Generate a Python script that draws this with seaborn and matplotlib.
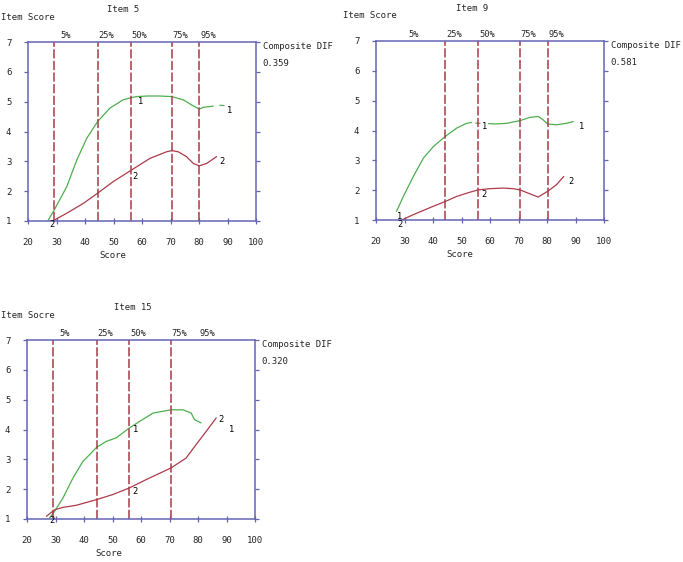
"""
DIF item plots: item score vs total score for two groups, three items.
"""
import matplotlib
matplotlib.use("Agg")
import matplotlib.pyplot as plt
import seaborn as sns
import pandas as pd

# ---- data ----
items = ["Item 5", "Item 9", "Item 15"]
y_titles = ["Item Score", "Item Score", "Item Socre"]
dif_values = ["0.359", "0.581", "0.320"]
pct_names = ["5%", "25%", "50%", "75%", "95%"]
pct_label_x = [31.3, 44.7, 56.3, 70.7, 80.5]

# percentile cut lines drawn in each panel
cuts_5 = [29.2, 44.4, 56.0, 70.5, 80.1]
cuts_9 = [44.3, 55.9, 70.5, 80.2]
cuts_15 = [29.1, 44.5, 55.9, 70.5]

# group 1 (green) and group 2 (red) curves; seg splits broken pieces
g1_5_x = [27.1, 29.2, 33.6, 37.1, 40.6, 44.4, 48.7, 53.3, 56.0, 58.0, 62.0, 66.0, 70.5, 74.5, 77.4, 80.1, 81.5, 85.0, 87.3, 88.8]
g1_5_y = [1.03, 1.37, 2.15, 3.04, 3.77, 4.33, 4.78, 5.06, 5.13, 5.17, 5.19, 5.19, 5.17, 5.06, 4.89, 4.75, 4.81, 4.85, 4.88, 4.87]
g1_5_seg = [0] * 18 + [1, 1]
g2_5_x = [29.2, 33.6, 39.4, 44.4, 49.9, 56.0, 62.8, 68.6, 70.5, 72.7, 75.6, 78.0, 80.1, 82.7, 86.2]
g2_5_y = [1.03, 1.26, 1.59, 1.93, 2.32, 2.69, 3.10, 3.32, 3.36, 3.32, 3.16, 2.93, 2.85, 2.93, 3.16]

g1_9_x = [27.2, 29.6, 33.1, 36.6, 40.1, 44.3, 48.3, 51.8, 53.5, 55.0, 56.5, 59.5, 62.3, 65.8, 70.5, 74.0, 76.9, 78.6, 80.2, 83.3, 86.8, 89.2]
g1_9_y = [1.29, 1.79, 2.46, 3.07, 3.46, 3.80, 4.08, 4.24, 4.27, 4.25, 4.24, 4.23, 4.22, 4.24, 4.33, 4.44, 4.47, 4.36, 4.22, 4.19, 4.24, 4.30]
g1_9_seg = [0] * 9 + [1, 1] + [2] * 11
g2_9_x = [29.0, 33.1, 40.1, 44.3, 48.3, 52.9, 55.9, 60.0, 64.6, 68.1, 70.5, 73.4, 76.9, 80.2, 83.3, 85.9]
g2_9_y = [1.00, 1.18, 1.46, 1.62, 1.79, 1.93, 2.01, 2.05, 2.07, 2.05, 2.01, 1.90, 1.77, 1.96, 2.18, 2.46]

g1_15_x = [27.9, 29.7, 32.6, 36.1, 39.6, 42.0, 44.4, 47.8, 51.3, 55.9, 59.5, 64.2, 70.5, 74.7, 77.6, 78.8, 81.1]
g1_15_y = [1.03, 1.26, 1.70, 2.37, 2.93, 3.16, 3.40, 3.60, 3.72, 4.05, 4.27, 4.55, 4.66, 4.66, 4.55, 4.33, 4.22]
g2_15_x = [26.8, 29.7, 32.6, 37.3, 44.4, 50.1, 55.9, 61.8, 70.5, 75.8, 79.3, 82.9, 86.4]
g2_15_y = [1.09, 1.31, 1.39, 1.46, 1.65, 1.82, 2.04, 2.32, 2.71, 3.04, 3.49, 3.94, 4.39]

# curve number labels: (x, y, text)
marks_5 = [(27.6, 0.88, "2"), (58.5, 5.0, "1"), (56.5, 2.49, "2"), (89.9, 4.72, "1"), (87.2, 2.99, "2")]
marks_9 = [(27.3, 1.12, "1"), (27.5, 0.86, "2"), (57.0, 4.13, "1"), (56.8, 1.85, "2"), (91.3, 4.13, "1"), (87.4, 2.29, "2")]
marks_15 = [(27.7, 0.94, "2"), (57.0, 4.0, "1"), (56.9, 1.93, "2"), (91.0, 3.99, "1"), (87.3, 4.35, "2")]

GREEN = "#4fae4f"
RED = "#ad3b4a"
CUT = "#a83a48"
SPINE = "#6464b4"
MONO = "DejaVu Sans Mono"

sns.set_style("white")
plt.rcParams["font.family"] = MONO

fig = plt.figure(figsize=(6.83, 5.62), dpi=100)
W, H = 683.0, 562.0

# axes boxes in pixels: left, top, right, bottom
boxes = [(28, 42, 256, 221), (376, 41, 604, 220), (27, 340, 255, 519)]
g1 = [(g1_5_x, g1_5_y, g1_5_seg), (g1_9_x, g1_9_y, g1_9_seg), (g1_15_x, g1_15_y, [0] * len(g1_15_x))]
g2 = [(g2_5_x, g2_5_y), (g2_9_x, g2_9_y), (g2_15_x, g2_15_y)]
cuts = [cuts_5, cuts_9, cuts_15]
marks = [marks_5, marks_9, marks_15]
title_x = [0.417, 0.42, 0.465]
score_x = [0.373, 0.368, 0.36]
ytitle_px = [1, 343, 1]

for i, (l, t, r, b) in enumerate(boxes):
    ax = fig.add_axes([l / W, 1 - b / H, (r - l) / W, (b - t) / H])

    d1 = pd.DataFrame({"score": g1[i][0], "item": g1[i][1], "seg": g1[i][2]})
    d2 = pd.DataFrame({"score": g2[i][0], "item": g2[i][1], "seg": 0})
    sns.lineplot(data=d1, x="score", y="item", units="seg", estimator=None,
                 color=GREEN, lw=0.9, ax=ax, sort=False)
    sns.lineplot(data=d2, x="score", y="item", units="seg", estimator=None,
                 color=RED, lw=0.9, ax=ax, sort=False)

    for c in cuts[i]:
        ax.axvline(c, color=CUT, lw=1.1, dashes=(6, 1.6))

    for x, y, s in marks[i]:
        ax.text(x, y, s, fontsize=6.3, color="black", ha="left", va="center", clip_on=False)

    ax.set_xlim(20, 100)
    ax.set_ylim(1, 7)
    ax.set_xticks(range(20, 101, 10))
    ax.set_yticks(range(1, 8))
    ax.set_xlabel("")
    ax.set_ylabel("")
    for side in ["left", "right", "top", "bottom"]:
        ax.spines[side].set_color(SPINE)
        ax.spines[side].set_linewidth(1.1)
        ax.spines[side].set_visible(True)
    ax.tick_params(axis="y", which="both", left=True, right=True, direction="out",
                   length=3, width=0.9, color=SPINE, labelsize=6.5, pad=9)
    ax.tick_params(axis="x", which="both", bottom=True, direction="inout",
                   length=4, width=0.9, color=SPINE, labelsize=6.5, pad=10)

    for px, name in zip(pct_label_x, pct_names):
        ax.text(px, 1.035, name, transform=ax.get_xaxis_transform(),
                fontsize=6.3, ha="left", va="center")

    ax.text(title_x[i], 1.18, items[i], transform=ax.transAxes,
            fontsize=6.5, ha="center", va="center")
    fig.text(ytitle_px[i] / W, 1 - (t - 25) / H, y_titles[i],
             fontsize=6.5, ha="left", va="center")
    ax.text(score_x[i], -0.195, "Score", transform=ax.transAxes,
            fontsize=6.5, ha="center", va="center")
    ax.text(1.03, 0.975, "Composite DIF", transform=ax.transAxes,
            fontsize=6.5, ha="left", va="center")
    ax.text(1.03, 0.88, dif_values[i], transform=ax.transAxes,
            fontsize=6.5, ha="left", va="center")

fig.savefig("out.png", dpi=100)
